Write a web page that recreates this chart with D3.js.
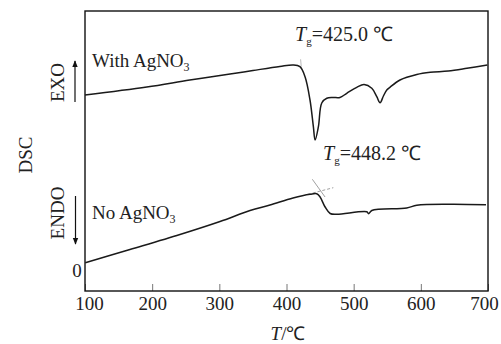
<!DOCTYPE html>
<html>
<head>
<meta charset="utf-8">
<script src="https://cdn.jsdelivr.net/npm/d3@7"></script>
<style>
  body { margin: 0; background: #fff; }
  text { font-family: "Liberation Serif", "Times New Roman", serif; fill: #222; }
</style>
</head>
<body>
<div id="chart"></div>
<script>
// temperature (°C) and DSC signal (arb. units)
const withT = [100, 192, 256, 316, 350, 390, 410, 420, 427.6, 435, 440, 442.6, 447.5, 452.5, 460, 469, 479.5, 489.7, 504.6, 515.5, 527, 534.4, 539.3, 544.3, 549.3, 554, 569, 594, 614, 640.7, 668.6, 699];
const withV = [17.5, 18.3, 19.0, 19.6, 19.95, 20.35, 20.5, 20.33, 19.33, 17.0, 14.33, 13.0, 14.33, 16.7, 17.17, 17.25, 17.25, 17.67, 18.27, 18.55, 18.17, 17.33, 16.73, 17.4, 18.0, 18.27, 19.0, 19.55, 19.77, 19.9, 20.17, 20.5];

const noT = [100.4, 166.9, 241.4, 301, 345.7, 375.4, 409.7, 435, 445, 450, 457.5, 465, 474.8, 519.5, 522.2, 527, 579, 594, 643.6, 697];
const noV = [0.73, 2.05, 3.55, 4.85, 5.95, 6.5, 7.2, 7.57, 7.63, 7.3, 6.3, 5.65, 5.57, 5.82, 5.63, 5.95, 6.2, 6.47, 6.57, 6.52];

const xTicks = [100, 200, 300, 400, 500, 600, 700];

// tangent construction lines at Tg
const tanSolid = [[438.5, 9.07], [457.4, 7.3]];
const tanDash = [[431.7, 7.57], [469.7, 8.23]];
const tanUpper = [[421, 21.07], [422, 20.33]];

const width = 501;
const height = 344;
const margin = { top: 11, right: 13, bottom: 53, left: 85 };

const svg = d3.select('#chart')
  .append('svg')
  .attr('width', width)
  .attr('height', height);

svg.append('rect').attr('width', width).attr('height', height).attr('fill', '#fff');

const x = d3.scaleLinear()
  .domain([100, 700])
  .range([margin.left, width - margin.right]);

const y = d3.scaleLinear()
  .domain([-2.1, 25.9])
  .range([height - margin.bottom, margin.top]);

const line = d3.line().x(d => x(d[0])).y(d => y(d[1])).curve(d3.curveCatmullRom.alpha(0.5));
const straight = d3.line().x(d => x(d[0])).y(d => y(d[1]));

// x axis with inward ticks
const xAxis = svg.append('g')
  .attr('transform', `translate(0,${height - margin.bottom})`)
  .call(d3.axisBottom(x).tickValues(xTicks).tickSize(-7).tickPadding(6).tickSizeOuter(0));
xAxis.select('.domain').remove();
xAxis.selectAll('.tick line').attr('stroke', '#777');
xAxis.selectAll('.tick text')
  .attr('font-size', 19)
  .attr('font-family', '"Liberation Serif", serif')
  .attr('fill', '#222')
  .attr('dx', d => d === 100 ? 4 : d === 700 ? -4 : 0);

// frame
svg.append('rect')
  .attr('x', margin.left)
  .attr('y', margin.top)
  .attr('width', width - margin.left - margin.right)
  .attr('height', height - margin.top - margin.bottom)
  .attr('fill', 'none')
  .attr('stroke', '#111')
  .attr('stroke-width', 1.4);

// tangent lines
svg.append('path').attr('d', straight(tanSolid))
  .attr('stroke', '#888').attr('stroke-width', 0.8).attr('fill', 'none');
svg.append('path').attr('d', straight(tanDash))
  .attr('stroke', '#888').attr('stroke-width', 0.8).attr('stroke-dasharray', '3,2').attr('fill', 'none');
svg.append('path').attr('d', straight(tanUpper))
  .attr('stroke', '#aaa').attr('stroke-width', 0.8).attr('fill', 'none');

// curves
svg.append('path')
  .datum(withT.map((t, i) => [t, withV[i]]))
  .attr('d', line)
  .attr('fill', 'none')
  .attr('stroke', '#1a1a1a')
  .attr('stroke-width', 1.5);

svg.append('path')
  .datum(noT.map((t, i) => [t, noV[i]]))
  .attr('d', line)
  .attr('fill', 'none')
  .attr('stroke', '#1a1a1a')
  .attr('stroke-width', 1.5);

// "0" on y axis
svg.append('text')
  .attr('x', 77).attr('y', y(0))
  .attr('dy', '0.35em')
  .attr('text-anchor', 'middle')
  .attr('font-size', 19)
  .text('0');

// series labels
function agno(sel, prefix) {
  sel.append('tspan').text(prefix + 'AgNO');
  sel.append('tspan').attr('font-size', 12).attr('dy', 4).text('3');
}
svg.append('text').attr('x', 92).attr('y', 67).attr('font-size', 19).call(agno, 'With ');
svg.append('text').attr('x', 92).attr('y', 219).attr('font-size', 19).call(agno, 'No ');

// Tg labels
function tg(sel, val) {
  sel.append('tspan').attr('font-style', 'italic').text('T');
  sel.append('tspan').attr('font-size', 11).attr('dy', 4).text('g');
  sel.append('tspan').attr('dy', -4).text('=' + val + ' \u2103');
}
svg.append('text').attr('x', 295).attr('y', 41).attr('font-size', 20).call(tg, '425.0');
svg.append('text').attr('x', 323).attr('y', 160).attr('font-size', 20).call(tg, '448.2');

// rotated y labels
svg.append('text')
  .attr('transform', 'translate(64,82.5) rotate(-90)')
  .attr('text-anchor', 'middle').attr('font-size', 19).text('EXO');
svg.append('text')
  .attr('transform', 'translate(64,213) rotate(-90)')
  .attr('text-anchor', 'middle').attr('font-size', 19).text('ENDO');
svg.append('text')
  .attr('transform', 'translate(31.5,155) rotate(-90)')
  .attr('text-anchor', 'middle').attr('font-size', 19).text('DSC');

// arrows
const defs = svg.append('defs');
defs.append('marker')
  .attr('id', 'arr')
  .attr('viewBox', '0 0 10 10')
  .attr('refX', 9).attr('refY', 5)
  .attr('markerWidth', 7).attr('markerHeight', 7)
  .attr('markerUnits', 'userSpaceOnUse')
  .attr('orient', 'auto')
  .append('path').attr('d', 'M0,1L10,5L0,9Z').attr('fill', '#111');

svg.append('line').attr('x1', 75).attr('y1', 102).attr('x2', 75).attr('y2', 61)
  .attr('stroke', '#111').attr('stroke-width', 1.2).attr('marker-end', 'url(#arr)');
svg.append('line').attr('x1', 75.5).attr('y1', 196).attr('x2', 75.5).attr('y2', 244)
  .attr('stroke', '#111').attr('stroke-width', 1.2).attr('marker-end', 'url(#arr)');

// x axis title
const xt = svg.append('text')
  .attr('x', 288).attr('y', 340)
  .attr('text-anchor', 'middle')
  .attr('font-size', 19);
xt.append('tspan').attr('font-style', 'italic').text('T');
xt.append('tspan').text('/\u2103');
</script>
</body>
</html>
